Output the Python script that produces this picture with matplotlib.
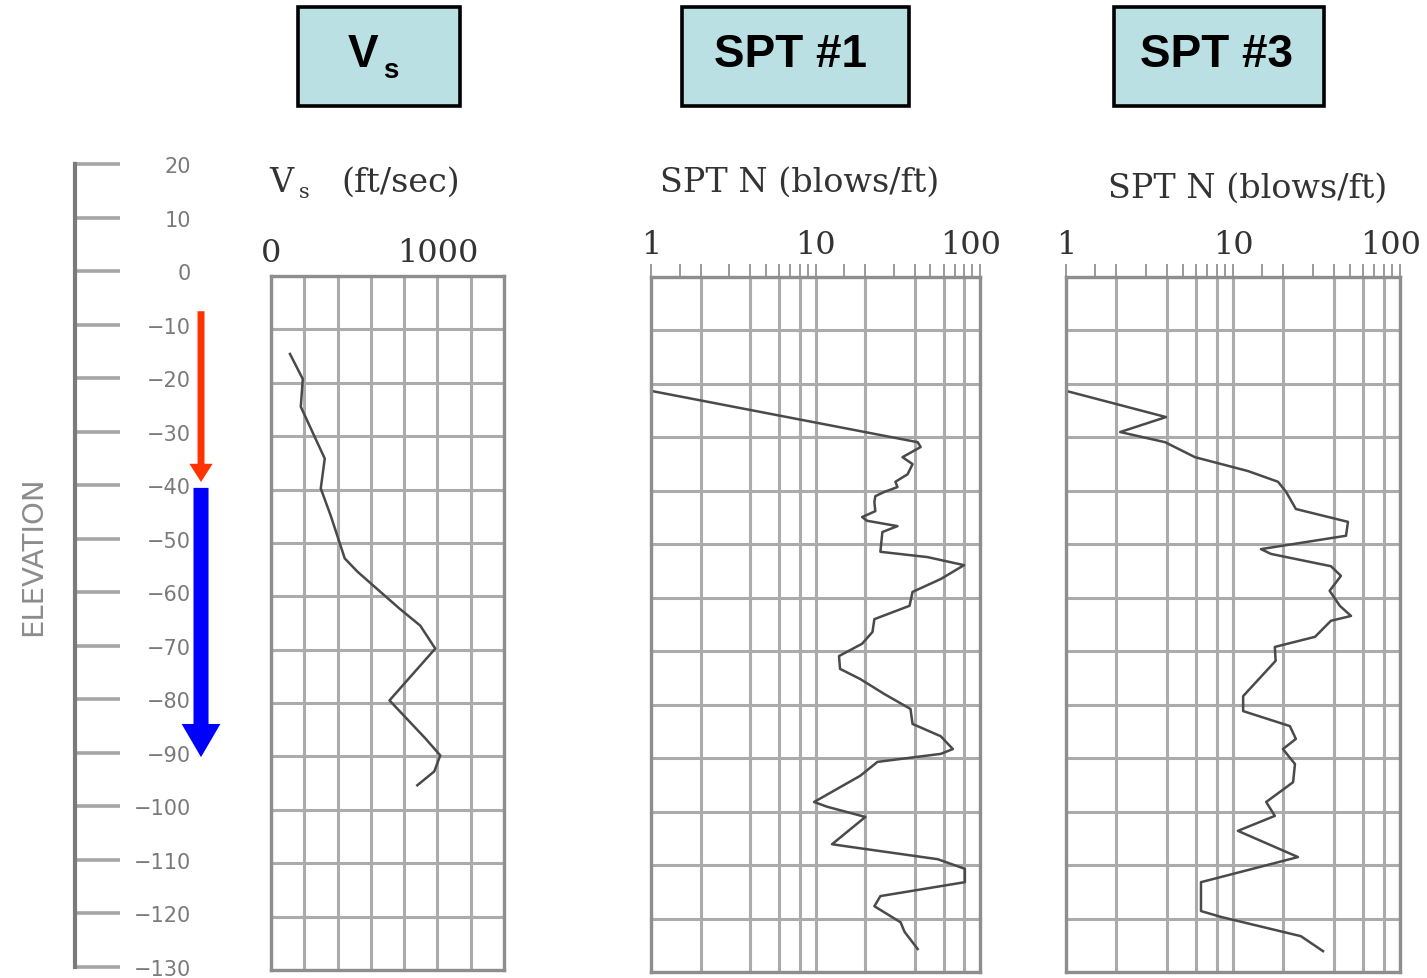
import numpy as np
import matplotlib
matplotlib.use("Agg")
import matplotlib.pyplot as plt
from matplotlib.patches import Rectangle
from matplotlib.ticker import FixedLocator, NullFormatter
from matplotlib.transforms import ScaledTranslation

# ---------------- data ----------------
elev_ticks = [20, 10, 0, -10, -20, -30, -40, -50, -60, -70, -80, -90, -100, -110, -120, -130]

vs_elev = [-14.6, -19.3, -24.5, -34.2, -39.8, -45.0, -52.9, -55.4, -62.3, -65.5, -69.8,
           -79.5, -86.6, -89.8, -92.8, -95.4]
vs_vel = [114, 191, 179, 323, 299, 360, 443, 520, 772, 897, 987,
          712, 927, 1017, 981, 879]
vs_ticks = [0, 200, 400, 600, 800, 1000, 1200, 1400]
vs_ticklabels = ["0", "", "", "", "", "1000", "", ""]

spt1_elev = [-18.5, -21.3, -30.9, -31.8, -33.7, -35.0, -36.9, -38.3, -39.3, -40.2,
             -41.0, -42.1, -43.8, -44.9, -45.6, -46.6, -47.7, -51.4, -52.4, -53.9,
             -56.5, -58.9, -61.5, -64.0, -66.4, -68.6, -70.9, -73.3, -75.2, -78.0,
             -80.8, -83.6, -85.9, -88.3, -89.2, -90.7, -93.3, -98.2, -99.1, -101.0,
             -106.1, -106.6, -108.9, -110.7, -113.2, -115.8, -117.7, -120.7, -122.5, -125.7]
spt1_n = [1, 1, 41.8, 43.6, 33.8, 38.9, 36.3, 30.6, 31.5, 26.2,
          23.1, 22.8, 23.1, 19.2, 20.6, 31.5, 25.5, 24.8, 48.1, 80.0,
          57.7, 38.9, 37.3, 22.8, 22.2, 19.2, 13.9, 14.1, 18.7, 26.2,
          37.8, 38.9, 57.7, 68.4, 57.7, 23.8, 18.7, 9.8, 11.8, 20.1,
          12.6, 16.3, 55.3, 80.9, 80.9, 24.8, 22.8, 32.9, 34.8, 41.8]

spt3_elev = [-11.6, -21.3, -26.2, -29.0, -30.9, -33.7, -36.3, -38.3, -40.2, -43.4,
             -45.8, -48.4, -50.9, -51.8, -54.1, -55.9, -58.7, -61.5, -63.4, -64.3,
             -67.3, -69.2, -71.8, -78.4, -81.2, -84.0, -86.4, -88.3, -91.1, -94.5,
             -98.2, -100.8, -103.6, -108.5, -113.2, -118.6, -119.7, -123.3, -126.1]
spt3_n = [1, 1, 3.97, 2.11, 3.92, 5.92, 12.3, 18.6, 20.8, 23.8,
          48.8, 47.5, 14.7, 16.9, 38.6, 44.3, 37.9, 43.6, 50.9, 38.6,
          31.0, 17.8, 18.0, 11.5, 11.5, 21.9, 23.8, 19.9, 23.5, 22.9,
          15.8, 17.8, 10.7, 24.5, 6.43, 6.43, 8.48, 25.5, 34.6]

spt_grid = [1, 2, 4, 6, 8, 10, 20, 40, 60, 80, 100]
spt_gridlabels = ["1", "", "", "", "", "10", "", "", "", "", "100"]
spt_minor = [1.5, 3, 5, 7, 9, 15, 30, 50, 70, 90]

red_range = [-7.5, -39.4]     # elevation span of red arrow
blue_range = [-40.5, -90.8]   # elevation span of blue arrow

titles = ["SPT #1", "SPT #3"]
axis_title_spt = "SPT N (blows/ft)"

# ---------------- figure ----------------
W, H = 1427, 979
PX = 0.72  # points per pixel at dpi 100
fig = plt.figure(figsize=(W / 100, H / 100), dpi=100)
fig.patch.set_facecolor("white")


def add_ax(l, t, r, b):
    return fig.add_axes([l / W, 1 - b / H, (r - l) / W, (b - t) / H])


def fx(x):
    return x / W


def fy(y):
    return 1 - y / H


GRID = "#ababab"
FRAME = "#8e8e8e"
CURVE = "#4a4a4a"
TXT = "#333333"
SERIF = "DejaVu Serif"

# ---------------- elevation axis ----------------
ax_e = add_ax(75, 165, 230, 968)
ax_e.set_ylim(-130, 20)
ax_e.set_xlim(0, 1)
ax_e.patch.set_alpha(0)
for s in ["top", "right", "bottom"]:
    ax_e.spines[s].set_visible(False)
ax_e.spines["left"].set_color("#7a7a7a")
ax_e.spines["left"].set_linewidth(3)
ax_e.set_xticks([])
ax_e.set_yticks(elev_ticks)
ax_e.set_yticklabels([str(v).replace("-", "\u2212") for v in elev_ticks])
ax_e.tick_params(axis="y", direction="in", length=45 * PX, width=2.6, color="#a5a5a5",
                 pad=-116 * PX, labelsize=15, labelcolor="#7a7a7a")

ax_e.arrow(0.813, red_range[0], 0, red_range[1] - red_range[0], width=0.045,
           head_width=0.15, head_length=3.4, length_includes_head=True,
           fc="#ff3300", ec="none", clip_on=False)
ax_e.arrow(0.813, blue_range[0], 0, blue_range[1] - blue_range[0], width=0.097,
           head_width=0.25, head_length=6.2, length_includes_head=True,
           fc="#0000ff", ec="none", clip_on=False)

fig.text(fx(33), fy(556), "ELEVATION", rotation=90, ha="center", va="center",
         fontsize=21, color="#8c8c8c", family="DejaVu Sans")


def style_panel(ax):
    ax.set_ylim(-130, 0)
    ax.set_yticks(np.arange(-130, 1, 10))
    ax.tick_params(axis="y", left=False, right=False, labelleft=False)
    ax.grid(True, which="major", color=GRID, lw=2.2)
    ax.set_axisbelow(True)
    for s in ax.spines.values():
        s.set_color(FRAME)
        s.set_linewidth(2.4)


# ---------------- Vs panel ----------------
ax_v = add_ax(271, 277, 504, 971)
style_panel(ax_v)
ax_v.set_xlim(0, 1400)
ax_v.set_xticks(vs_ticks)
ax_v.set_xticklabels(vs_ticklabels)
ax_v.tick_params(axis="x", top=True, bottom=False, labeltop=True, labelbottom=False,
                 length=0, pad=6, labelsize=23, labelcolor=TXT)
for lab in ax_v.get_xticklabels():
    lab.set_family(SERIF)
ax_v.plot(vs_vel, vs_elev, color=CURVE, lw=1.8)

fig.text(fx(281), fy(183), "V", ha="center", va="center", fontsize=24, family=SERIF, color=TXT)
fig.text(fx(304), fy(193), "s", ha="center", va="center", fontsize=15, family=SERIF, color=TXT)
fig.text(fx(401), fy(183), "(ft/sec)", ha="center", va="center", fontsize=24, family=SERIF, color=TXT)


# ---------------- SPT panels ----------------
def spt_panel(l, r, nvals, elevs, title_x, title_y):
    ax = add_ax(l, 278, r, 973)
    style_panel(ax)
    ax.set_xscale("log")
    ax.set_xlim(1, 100)
    ax.xaxis.set_major_locator(FixedLocator(spt_grid))
    ax.set_xticklabels(spt_gridlabels)
    ax.xaxis.set_minor_locator(FixedLocator(spt_minor))
    ax.xaxis.set_minor_formatter(NullFormatter())
    ax.tick_params(axis="x", which="both", top=True, bottom=False, labeltop=True,
                   labelbottom=False, direction="out", length=13 * PX, width=1.4,
                   color="#9a9a9a", pad=3, labelsize=23, labelcolor=TXT)
    labs = ax.get_xticklabels()
    for lab in labs:
        lab.set_family(SERIF)
    # the "100" label sits slightly left of its grid line, as in the original
    labs[-1].set_transform(labs[-1].get_transform() + ScaledTranslation(-0.09, 0, fig.dpi_scale_trans))
    ax.plot(nvals, elevs, color=CURVE, lw=1.8)
    fig.text(fx(title_x), fy(title_y), axis_title_spt, ha="center", va="center",
             fontsize=24, family=SERIF, color=TXT)
    return ax


spt_panel(651, 980, spt1_n, spt1_elev, 800, 183)
spt_panel(1066, 1400, spt3_n, spt3_elev, 1248, 189)

# ---------------- header boxes ----------------
BOXFILL = "#bbe0e3"


def header_box(l, r):
    rect = Rectangle((fx(l), fy(107)), (r - l) / W, (107 - 8) / H, transform=fig.transFigure,
                     facecolor=BOXFILL, edgecolor="black", lw=2.6)
    fig.add_artist(rect)


header_box(298, 460)
header_box(682, 909)
header_box(1114, 1324)

fig.text(fx(363), fy(55), "V", ha="center", va="center", fontsize=33, fontweight="bold",
         family="Liberation Sans", color="black")
fig.text(fx(391), fy(71), "s", ha="center", va="center", fontsize=20, fontweight="bold",
         family="Liberation Sans", color="black")
fig.text(fx(791), fy(55), titles[0], ha="center", va="center", fontsize=33, fontweight="bold",
         family="Liberation Sans", color="black")
fig.text(fx(1216), fy(55), titles[1], ha="center", va="center", fontsize=33, fontweight="bold",
         family="Liberation Sans", color="black")

fig.savefig("out.png", dpi=100, facecolor="white")
